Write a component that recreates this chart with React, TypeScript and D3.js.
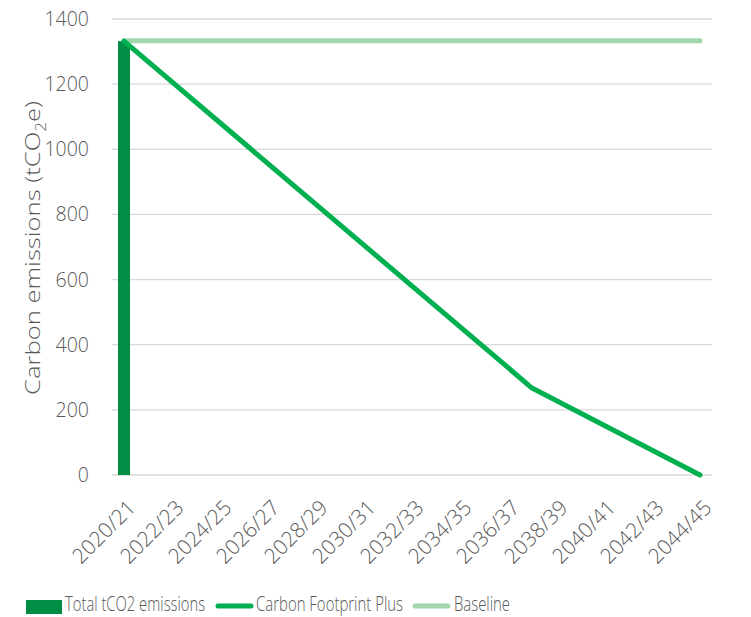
import React, { useLayoutEffect, useRef, useState } from "react";
import * as d3 from "d3";

// Financial years 2020/21 .. 2044/45
const years: string[] = [
  "2020/21", "2021/22", "2022/23", "2023/24", "2024/25", "2025/26", "2026/27",
  "2027/28", "2028/29", "2029/30", "2030/31", "2031/32", "2032/33", "2033/34",
  "2034/35", "2035/36", "2036/37", "2037/38", "2038/39", "2039/40", "2040/41",
  "2041/42", "2042/43", "2043/44", "2044/45",
];

// Every other year is labelled on the axis
const tickYears: string[] = years.filter((_, i) => i % 2 === 0);

// Total tCO2 emissions (bar, only the first year)
const totalYears: string[] = ["2020/21"];
const totalValues: number[] = [1332];

// Carbon Footprint Plus trajectory (vertices of the reduction path)
const cfpYears: string[] = ["2020/21", "2037/38", "2044/45"];
const cfpValues: number[] = [1332, 267, 0];

// Baseline held flat
const baselineYears: string[] = ["2020/21", "2044/45"];
const baselineValues: number[] = [1333, 1333];

const yTicks: number[] = [0, 200, 400, 600, 800, 1000, 1200, 1400];

const W = 751;
const H = 617;
const M = { left: 112, right: 39, top: 19, bottom: 142 };
const FONT = "'Open Sans', sans-serif";
const GREY = "#595959";
const BAR = "#008E44";
const LINE = "#00B050";
const BASE = "#A2D6AC";

// Text squeezed horizontally to a target width (narrow legend face)
function NarrowText({ x, y, width, children }: { x: number; y: number; width: number; children: string }) {
  const ref = useRef<SVGTextElement>(null);
  const [sx, setSx] = useState(0.72);
  useLayoutEffect(() => {
    if (ref.current) {
      const w = ref.current.getComputedTextLength();
      if (w > 0) setSx(width / w);
    }
  }, [width, children]);
  return (
    <text ref={ref} transform={`translate(${x}, ${y}) scale(${sx}, 1)`}>
      {children}
    </text>
  );
}

export default function App() {
  const x = d3
    .scaleBand<string>()
    .domain(years)
    .range([M.left, W - M.right]);
  const y = d3
    .scaleLinear()
    .domain([0, 1400])
    .range([H - M.bottom, M.top]);
  const cx = (c: string) => (x(c) as number) + x.bandwidth() / 2;
  const barW = 12;

  const line = d3
    .line<[string, number]>()
    .x((d) => cx(d[0]))
    .y((d) => y(d[1]));

  const cfp = cfpYears.map((c, i) => [c, cfpValues[i]] as [string, number]);
  const base = baselineYears.map((c, i) => [c, baselineValues[i]] as [string, number]);

  const legendY = 607;

  return (
    <svg
      width={W}
      height={H}
      style={{ position: "absolute", left: 0, top: 0, background: "#fff" }}
      fontFamily={FONT}
      fontWeight={300}
    >
      {/* gridlines */}
      {yTicks.map((t) => (
        <line
          key={t}
          x1={M.left}
          x2={W - M.right}
          y1={y(t)}
          y2={y(t)}
          stroke="#D9D9D9"
          strokeWidth={1.3}
        />
      ))}
      {/* y tick labels */}
      {yTicks.map((t) => (
        <text
          key={t}
          x={89}
          y={y(t)}
          dy="0.36em"
          textAnchor="end"
          fontSize={19.5}
          fill={GREY}
        >
          {t}
        </text>
      ))}
      {/* y axis title */}
      <text
        transform={`translate(40, ${248}) rotate(-90)`}
        textAnchor="middle"
        fontSize={21}
        fill={GREY}
        textLength={294}
        lengthAdjust="spacingAndGlyphs"
      >
        Carbon emissions (tCO
        <tspan fontSize={14} dy={6}>2</tspan>
        <tspan dy={-6}>e)</tspan>
      </text>
      {/* x tick labels */}
      {tickYears.map((c) => (
        <text
          key={c}
          transform={`translate(${cx(c) + 13}, ${509}) rotate(-45)`}
          textAnchor="end"
          fontSize={21}
          fill={GREY}
        >
          {c}
        </text>
      ))}
      {/* bars */}
      {totalYears.map((c, i) => (
        <rect
          key={c}
          x={cx(c) - barW / 2}
          y={y(totalValues[i])}
          width={barW}
          height={y(0) - y(totalValues[i])}
          fill={BAR}
        />
      ))}
      {/* lines */}
      <path d={line(base) ?? ""} fill="none" stroke={BASE} strokeWidth={5} strokeLinecap="round" />
      <path
        d={line(cfp) ?? ""}
        fill="none"
        stroke={LINE}
        strokeWidth={5}
        strokeLinecap="round"
        strokeLinejoin="round"
      />
      {/* legend */}
      <g fontSize={21} fill={GREY}>
        <rect x={26} y={legendY - 7} width={36} height={14} fill={BAR} />
        <NarrowText x={65} y={611} width={140}>Total tCO2 emissions</NarrowText>
        <line x1={218} x2={251} y1={legendY - 1} y2={legendY - 1} stroke={LINE} strokeWidth={5} strokeLinecap="round" />
        <NarrowText x={256} y={611} width={147}>Carbon Footprint Plus</NarrowText>
        <line x1={415} x2={448} y1={legendY - 1} y2={legendY - 1} stroke={BASE} strokeWidth={5} strokeLinecap="round" />
        <NarrowText x={454} y={611} width={56}>Baseline</NarrowText>
      </g>
    </svg>
  );
}
